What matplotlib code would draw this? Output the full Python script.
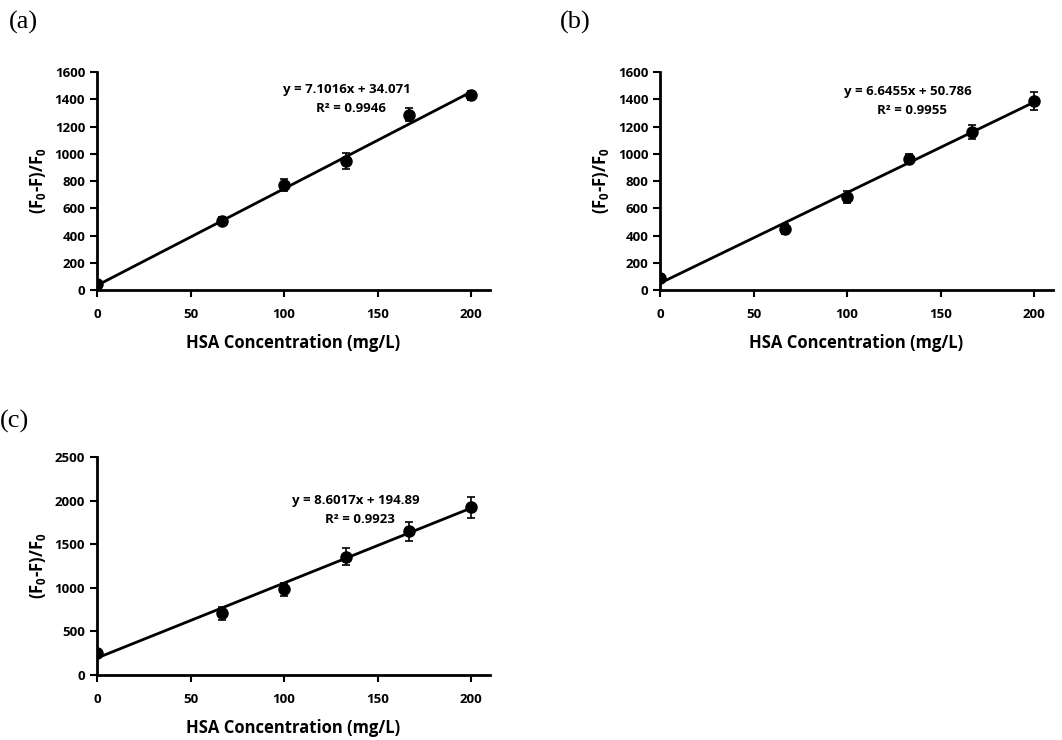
import numpy as np
import matplotlib
matplotlib.use("Agg")
import matplotlib.pyplot as plt

plt.rcParams['font.family'] = ['Open Sans', 'DejaVu Sans']
plt.rcParams['font.weight'] = 'bold'
plt.rcParams['mathtext.fontset'] = 'custom'
plt.rcParams['mathtext.bf'] = 'Open Sans:bold'
plt.rcParams['mathtext.rm'] = 'Open Sans:bold'
plt.rcParams['mathtext.default'] = 'bf'

# concentration of HSA (mg/L)
conc = [0, 66.7, 100, 133.3, 166.7, 200]

# (a)
val_a = [44, 506, 770, 946, 1288, 1430]
err_a = [12, 30, 43, 58, 49, 34]
fit_a = (7.1016, 34.071, 0.9946)

# (b)
val_b = [92, 450, 681, 961, 1163, 1387]
err_b = [10, 36, 43, 39, 51, 67]
fit_b = (6.6455, 50.786, 0.9955)

# (c)
val_c = [256, 708, 984, 1359, 1646, 1926]
err_c = [15, 77, 75, 94, 105, 120]
fit_c = (8.6017, 194.89, 0.9923)

fig = plt.figure(figsize=(10.62, 7.4), dpi=100)


def panel(rect, vals, errs, fit, ymax, ystep, tag, tagpos, eqpos):
    ax = fig.add_axes(rect)
    slope, icpt, r2 = fit
    xs = np.array([0, 200])
    ax.plot(xs, slope * xs + icpt, color='black', lw=2, zorder=2)
    ax.errorbar(conc, vals, yerr=errs, fmt='o', color='black', ms=8,
                capsize=3, elinewidth=1.2, capthick=1.2, zorder=3)
    ax.set_xlim(0, 210)
    ax.set_ylim(0, ymax)
    ax.set_xticks([0, 50, 100, 150, 200])
    ax.set_yticks(np.arange(0, ymax + 1, ystep))
    for s in ['top', 'right']:
        ax.spines[s].set_visible(False)
    for s in ['left', 'bottom']:
        ax.spines[s].set_linewidth(2)
    ax.tick_params(direction='out', width=1.5, length=5, labelsize=9.5)
    ax.tick_params(axis='x', pad=8)
    for lab in ax.get_xticklabels() + ax.get_yticklabels():
        lab.set_fontweight('bold')
    ax.set_xlabel('HSA Concentration (mg/L)', fontsize=12, fontweight='bold', labelpad=9)
    ax.set_ylabel(r'(F$_0$-F)/F$_0$', fontsize=12, fontweight='bold', labelpad=5)
    icpt_txt = ('%.3f' % icpt) if icpt < 100 else ('%.2f' % icpt)
    ax.text(eqpos[0], eqpos[1], 'y = %.4fx + %s' % (slope, icpt_txt),
            transform=ax.transAxes, ha='center', va='center', fontsize=9.5, fontweight='bold')
    ax.text(eqpos[0] + 0.01, eqpos[1] - 0.088, 'R² = %.4f' % r2, transform=ax.transAxes,
            ha='center', va='center', fontsize=9.5, fontweight='bold')
    fig.text(tagpos[0], tagpos[1], tag, family=['Liberation Serif'], fontsize=19,
             fontweight='normal', ha='left', va='center')
    return ax


panel([0.0913, 0.608, 0.370, 0.2946], val_a, err_a, fit_a, 1600, 200, '(a)', (0.008, 0.97), (0.636, 0.922))
panel([0.6215, 0.608, 0.370, 0.2946], val_b, err_b, fit_b, 1600, 200, '(b)', (0.527, 0.97), (0.63, 0.913))
panel([0.0913, 0.0878, 0.370, 0.2946], val_c, err_c, fit_c, 2500, 500, '(c)', (0.0, 0.43), (0.66, 0.80))

fig.savefig('out.png', dpi=100)
